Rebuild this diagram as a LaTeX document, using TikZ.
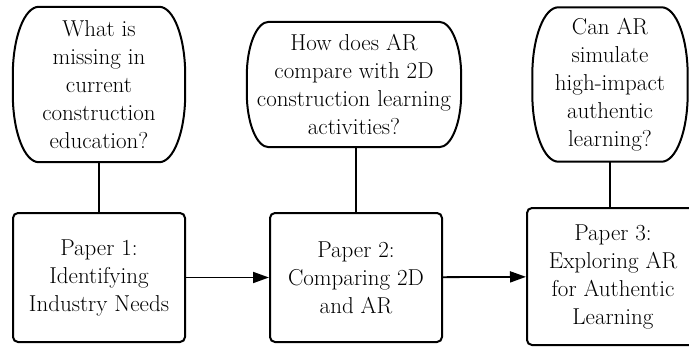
\documentclass[tikz,border=0pt]{standalone}
\usepackage{tikz}
\usetikzlibrary{arrows.meta,positioning}
\tikzstyle{block} = [rectangle, draw, line width=2pt, rounded corners=5pt,
    minimum width=172pt, minimum height=129pt, align=center, inner sep=0pt]
\tikzstyle{question} = [align=center, inner sep=0pt]
\tikzstyle{qborder} = [draw, line width=2pt]
\tikzstyle{link} = [draw, line width=1.8pt]
\tikzstyle{line} = [draw, line width=1.8pt, -{Triangle[length=16pt,width=11pt]}]

% outline of a question node: flat top and bottom, bulging sides
% #1 node, #2 corner x radius, #3 corner y radius
\newcommand{\qoutline}[3]{%
  \path[qborder] ([xshift=#2]#1.north west) -- ([xshift=-#2]#1.north east)
    arc[start angle=90, end angle=0, x radius=#2, y radius=#3]
    -- ([yshift=#3]#1.south east)
    arc[start angle=0, end angle=-90, x radius=#2, y radius=#3]
    -- ([xshift=#2]#1.south west)
    arc[start angle=270, end angle=180, x radius=#2, y radius=#3]
    -- ([yshift=-#3]#1.north west)
    arc[start angle=180, end angle=90, x radius=#2, y radius=#3] -- cycle;}

\begin{document}
\begin{tikzpicture}[x=1pt, y=-1pt, font=\fontsize{23}{28}\selectfont]
    \clip (0,0) rectangle (689,348);
    % Place nodes
    \node [block] (p1) at (99,277.5) {Paper 1:\\ Identifying\\ Industry Needs};
    \node [block, right of=p1, node distance=257pt] (p2) {Paper 2:\\ Comparing 2D\\ and AR};
    \node [block, right of=p2, node distance=257pt, minimum height=137pt, yshift=1pt] (p3)
        {Paper 3:\\ Exploring AR\\ for Authentic\\ Learning};
    \node [question, above of=p1, node distance=193pt, minimum width=172pt, minimum height=155pt] (q1)
        {What is\\ missing in\\ current\\ construction\\ education?};
    \node [question, above of=p2, node distance=193pt, xshift=-2pt, minimum width=214pt, minimum height=125pt] (q2)
        {How does AR\\ compare with 2D\\ construction learning\\ activities?};
    \node [question, above of=p3, node distance=192pt, xshift=-3pt, minimum width=155pt, minimum height=154pt] (q3)
        {Can AR\\ simulate\\ high-impact\\ authentic\\ learning?};
    % Question outlines
    \qoutline{q1}{26pt}{68pt}
    \qoutline{q2}{22pt}{54pt}
    \qoutline{q3}{26pt}{68pt}
    % Draw edges
    \path [link] (q1) -- (p1);
    \path [link] (p2.north |- q2.south) -- (p2.north);
    \path [link] (q3.south) -- (q3.south |- p3.north);
    \path [line] (p1) -- (p2);
    \path [line] (p2) -- (p3);
\end{tikzpicture}
\end{document}
